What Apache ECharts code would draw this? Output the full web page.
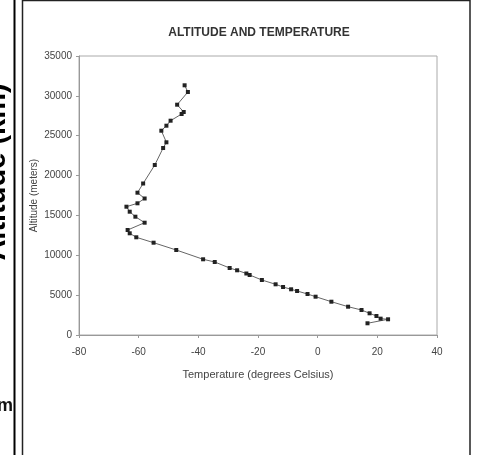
<!DOCTYPE html>
<html>
<head>
<meta charset="utf-8">
<script src="https://cdn.jsdelivr.net/npm/echarts@6/dist/echarts.min.js"></script>
<style>
html,body{margin:0;padding:0;background:#fff;}
#chart{width:497px;height:455px;}
</style>
</head>
<body>
<div id="chart"></div>
<script>
var titleText = "ALTITUDE AND TEMPERATURE";
var xAxisName = "Temperature (degrees Celsius)";
var yAxisName = "Altitude (meters)";
var sideLabel = "Altitude (km)";

var temperature = [16.7, 23.6, 21.1, 19.7, 17.4, 14.7, 10.2, 4.6, -0.7, -3.4, -6.9, -8.9, -11.6, -14.1, -18.7, -22.8, -23.9, -27.0, -29.5, -34.5, -38.4, -47.4, -55.0, -60.8, -63.0, -63.7, -58.0, -61.1, -63.0, -64.1, -60.4, -58.0, -60.4, -58.5, -54.6, -51.8, -50.7, -52.4, -50.7, -49.3, -45.6, -44.9, -47.1, -43.5, -44.6];
var altitude = [1470, 1970, 2050, 2384, 2722, 3136, 3550, 4177, 4805, 5143, 5520, 5733, 6022, 6360, 6900, 7527, 7715, 8117, 8405, 9158, 9497, 10663, 11579, 12257, 12758, 13172, 14088, 14841, 15468, 16095, 16522, 17124, 17852, 19006, 21327, 23459, 24174, 25629, 26257, 26884, 27724, 27975, 28891, 30484, 31325];

var points = temperature.map(function (t, i) { return [t, altitude[i]]; });

var chart = echarts.init(document.getElementById('chart'), null, {renderer: 'canvas'});
var labelFont = 'Liberation Sans, Arial, sans-serif';
chart.setOption({
  animation: false,
  backgroundColor: '#fff',
  title: {
    text: titleText,
    left: 254, top: 22, textAlign: 'center',
    textStyle: {fontSize: 12, fontWeight: 'bold', color: '#333', fontFamily: labelFont}
  },
  grid: {left: 79, right: 60, top: 56, bottom: 120, show: true, borderColor: '#aaa', borderWidth: 1},
  xAxis: {
    type: 'value', min: -80, max: 40, interval: 20,
    name: xAxisName, nameLocation: 'middle', nameGap: 34,
    nameTextStyle: {fontSize: 11, color: '#444', fontFamily: labelFont},
    axisLine: {show: true, onZero: false, lineStyle: {color: '#999'}},
    axisTick: {show: true, length: 3, lineStyle: {color: '#999'}},
    axisLabel: {fontSize: 10, color: '#444', margin: 12, fontFamily: labelFont},
    splitLine: {show: false}
  },
  yAxis: {
    type: 'value', min: 0, max: 35000, interval: 5000,
    name: yAxisName, nameLocation: 'middle', nameGap: 40, nameRotate: 90,
    nameMoveOverlap: false,
    nameTextStyle: {fontSize: 10, color: '#444', fontFamily: labelFont},
    axisLine: {show: true, onZero: false, lineStyle: {color: '#999'}},
    axisTick: {show: true, length: 3, lineStyle: {color: '#999'}},
    axisLabel: {fontSize: 10, color: '#444', margin: 7, fontFamily: labelFont,
      formatter: function (v) { return String(v); }},
    splitLine: {show: false}
  },
  series: [{
    type: 'line',
    data: points,
    symbol: 'rect', symbolSize: 4,
    itemStyle: {color: '#222'},
    lineStyle: {color: '#666', width: 1}
  }],
  graphic: [
    {type: 'line', shape: {x1: 14.5, y1: 0, x2: 14.5, y2: 455}, style: {stroke: '#000', lineWidth: 2}},
    {type: 'line', shape: {x1: 22.5, y1: 0, x2: 22.5, y2: 455}, style: {stroke: '#222', lineWidth: 1.5}},
    {type: 'line', shape: {x1: 22, y1: 0.5, x2: 470, y2: 0.5}, style: {stroke: '#222', lineWidth: 1.5}},
    {type: 'line', shape: {x1: 470, y1: 0, x2: 470, y2: 455}, style: {stroke: '#222', lineWidth: 1.5}},
    {type: 'text', x: 11, y: 172, rotation: Math.PI / 2,
      style: {text: sideLabel, fontSize: 29, fontWeight: 'bold', fill: '#000', align: 'center', verticalAlign: 'bottom', fontFamily: labelFont}},
    {type: 'text', x: 13, y: 406,
      style: {text: 'm', fontSize: 18, fontWeight: 'bold', fill: '#111', align: 'right', verticalAlign: 'middle', fontFamily: labelFont}}
  ]
});
</script>
</body>
</html>
